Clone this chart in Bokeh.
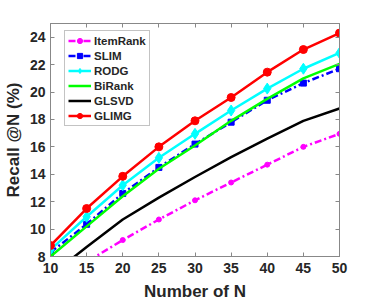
from bokeh.plotting import figure
from bokeh.models import Range1d, LinearAxis, FixedTicker, Legend, LegendItem
from bokeh.embed import file_html
from bokeh.resources import INLINE

N = [10, 15, 20, 25, 30, 35, 40, 45, 50]
itemrank = [6.0, 7.6, 9.2, 10.7, 12.1, 13.4, 14.7, 16.0, 16.95]
slim = [8.3, 10.35, 12.6, 14.5, 16.2, 17.8, 19.4, 20.65, 21.7]
rodg = [8.5, 10.9, 13.2, 15.2, 16.95, 18.65, 20.25, 21.7, 22.85]
birank = [8.0, 10.2, 12.4, 14.4, 16.1, 17.9, 19.5, 21.0, 22.05]
glsvd = [6.6, 8.7, 10.7, 12.3, 13.8, 15.25, 16.6, 17.9, 18.8]
glimg = [8.8, 11.5, 13.85, 16.0, 17.9, 19.6, 21.45, 23.1, 24.3]
x_ticks = [10, 15, 20, 25, 30, 35, 40, 45, 50]
y_ticks = [8, 10, 12, 14, 16, 18, 20, 22, 24]

FONT = "Liberation Sans"

p = figure(frame_width=289, frame_height=233, output_backend="svg", toolbar_location=None,
           x_range=Range1d(10, 50), y_range=Range1d(8, 25),
           min_border_left=40, min_border_right=20, min_border_top=23, min_border_bottom=39)
p.xgrid.visible = False
p.ygrid.visible = False
p.outline_line_color = "#888888"
p.background_fill_color = "white"
p.border_fill_color = "white"

def style_axis(ax, ticks, show_labels=True):
    ax.ticker = FixedTicker(ticks=ticks)
    ax.major_tick_in = 4
    ax.major_tick_out = 0
    ax.minor_tick_line_color = None
    ax.axis_line_color = "#888888"
    ax.major_tick_line_color = "#888888"
    ax.major_label_text_font = FONT
    ax.major_label_text_font_style = "bold"
    ax.major_label_text_font_size = "14px"
    ax.major_label_text_color = "#262626"
    ax.axis_label_text_font = FONT
    ax.axis_label_text_font_style = "bold"
    ax.axis_label_text_font_size = "17px"
    ax.axis_label_text_color = "#262626"
    if not show_labels:
        ax.major_label_overrides = {t: "" for t in ticks}
        ax.major_label_standoff = 0

style_axis(p.xaxis[0], x_ticks)
style_axis(p.yaxis[0], y_ticks)
p.xaxis[0].axis_label = "Number of N"
p.yaxis[0].axis_label = "Recall @N (%)"
p.xaxis[0].axis_label_standoff = 6
p.yaxis[0].axis_label_standoff = 4
p.xaxis[0].major_label_standoff = 6
p.yaxis[0].major_label_standoff = 5

top = LinearAxis()
style_axis(top, x_ticks, show_labels=False)
p.add_layout(top, "above")
right = LinearAxis()
style_axis(right, y_ticks, show_labels=False)
p.add_layout(right, "right")

lw = 2.5
items = []
r1 = p.line(N, itemrank, line_color="#ff00ff", line_width=lw, line_dash="7 3 2 3")
m1 = p.scatter(N, itemrank, marker="circle", size=5, fill_color="#ff00ff", line_color="#ff00ff")
items.append(LegendItem(label="ItemRank", renderers=[r1, m1]))
r2 = p.line(N, slim, line_color="#0000ff", line_width=lw, line_dash="7 3 2 3")
m2 = p.scatter(N, slim, marker="square", size=6, fill_color="#0000ff", line_color="#0000ff")
items.append(LegendItem(label="SLIM", renderers=[r2, m2]))
r3 = p.line(N, rodg, line_color="#00ffff", line_width=lw)
m3 = p.scatter(N, rodg, marker="diamond", size=11, fill_color="#00ffff", line_color="#00ffff")
items.append(LegendItem(label="RODG", renderers=[r3, m3]))
r4 = p.line(N, birank, line_color="#00ff00", line_width=lw)
items.append(LegendItem(label="BiRank", renderers=[r4]))
r5 = p.line(N, glsvd, line_color="black", line_width=lw)
items.append(LegendItem(label="GLSVD", renderers=[r5]))
r6 = p.line(N, glimg, line_color="#ff0000", line_width=lw)
m6 = p.scatter(N, glimg, marker="circle", size=8, fill_color="#ff0000", line_color="#ff0000")
items.append(LegendItem(label="GLIMG", renderers=[r6, m6]))

legend = Legend(items=items, location=(14, 130))
legend.label_text_font = FONT
legend.label_text_font_style = "bold"
legend.label_text_font_size = "11.5px"
legend.label_text_color = "#262626"
legend.glyph_width = 23
legend.glyph_height = 13
legend.label_height = 13
legend.spacing = 2
legend.padding = 3
legend.margin = 0
legend.label_standoff = 3
legend.border_line_color = "#888888"
legend.background_fill_alpha = 1
p.add_layout(legend, "center")

open("out.html", "w").write(file_html(p, INLINE))
